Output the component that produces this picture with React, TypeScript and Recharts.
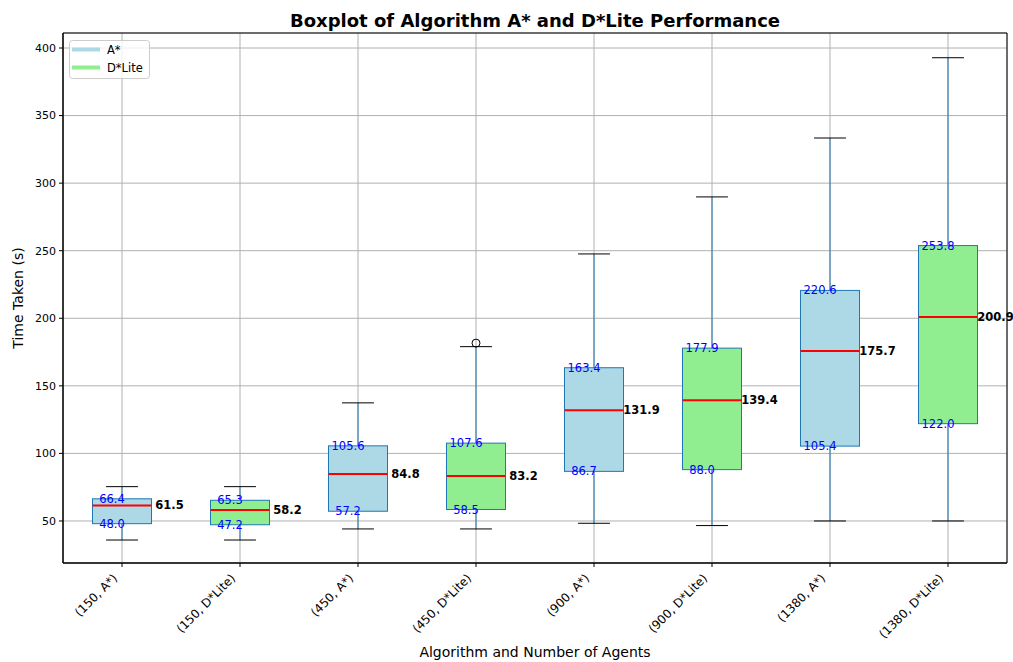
import React from 'react';
import {
  ComposedChart,
  Bar,
  XAxis,
  YAxis,
  CartesianGrid,
  ReferenceArea,
  Legend,
} from 'recharts';

const categories = [
  '(150, A*)',
  '(150, D*Lite)',
  '(450, A*)',
  '(450, D*Lite)',
  '(900, A*)',
  '(900, D*Lite)',
  '(1380, A*)',
  '(1380, D*Lite)',
];
const algorithms = ['A*', 'D*Lite', 'A*', 'D*Lite', 'A*', 'D*Lite', 'A*', 'D*Lite'];
const mins = [35.9, 35.9, 44.1, 44.1, 48.3, 46.6, 50.0, 50.0];
const q1s = [48.0, 47.2, 57.2, 58.5, 86.7, 88.0, 105.4, 122.0];
const medians = [61.5, 58.2, 84.8, 83.2, 131.9, 139.4, 175.7, 200.9];
const q3s = [66.4, 65.3, 105.6, 107.6, 163.4, 177.9, 220.6, 253.8];
const maxs = [75.4, 75.4, 137.4, 179.0, 247.6, 289.8, 333.4, 392.8];
const outliers: number[][] = [[], [], [], [181.6], [], [], [], []];
const yTicks = [50, 100, 150, 200, 250, 300, 350, 400];
const yDomain = [18.9, 411.1];

const algoColors: Record<string, string> = { 'A*': '#ADD8E6', 'D*Lite': '#90EE90' };

const data = categories.map((name, i) => ({
  name,
  algo: algorithms[i],
  min: mins[i],
  q1: q1s[i],
  median: medians[i],
  q3: q3s[i],
  max: maxs[i],
  outliers: outliers[i],
}));

const FONT = '"DejaVu Sans", sans-serif';

const BoxShape = (props: any) => {
  const { x, y, width, height, payload } = props;
  const top = Math.min(y, y + height);
  const bottom = Math.max(y, y + height);
  const { min, max, q1, q3, median, algo } = payload;
  const pix = (v: number) => top + ((max - v) / (max - min)) * (bottom - top);
  const cx = x + width / 2;
  const capHalf = width * 0.27;
  const yq1 = pix(q1);
  const yq3 = pix(q3);
  const ym = pix(median);
  return (
    <g>
      <line x1={cx} x2={cx} y1={pix(max)} y2={yq3} stroke="#1f77b4" strokeWidth={1} />
      <line x1={cx} x2={cx} y1={yq1} y2={pix(min)} stroke="#1f77b4" strokeWidth={1} />
      <line x1={cx - capHalf} x2={cx + capHalf} y1={pix(max)} y2={pix(max)} stroke="#000" strokeWidth={1} />
      <line x1={cx - capHalf} x2={cx + capHalf} y1={pix(min)} y2={pix(min)} stroke="#000" strokeWidth={1} />
      <rect x={x} y={yq3} width={width} height={yq1 - yq3} fill={algoColors[algo]} stroke="#1f77b4" strokeWidth={1} />
      <line x1={x} x2={x + width} y1={ym} y2={ym} stroke="#ff0000" strokeWidth={2} />
      {payload.outliers.map((o: number, k: number) => (
        <circle key={k} cx={cx} cy={pix(o)} r={4} fill="none" stroke="#000" strokeWidth={1} />
      ))}
      <text x={cx - 10} y={yq3} dy="0.35em" textAnchor="middle" fill="#0000ff" fontSize={11.5} fontFamily={FONT}>
        {q3.toFixed(1)}
      </text>
      <text x={cx - 10} y={yq1} dy="0.35em" textAnchor="middle" fill="#0000ff" fontSize={11.5} fontFamily={FONT}>
        {q1.toFixed(1)}
      </text>
      <text x={cx + 47.5} y={ym} dy="0.35em" textAnchor="middle" fill="#000" fontSize={11.5} fontWeight="bold" fontFamily={FONT}>
        {median.toFixed(1)}
      </text>
    </g>
  );
};

const XTick = (props: any) => {
  const { x, y, payload } = props;
  return (
    <g transform={`translate(${x},${y})`}>
      <text
        x={0}
        y={0}
        transform="translate(-4,12) rotate(-45)"
        textAnchor="end"
        fill="#000"
        fontSize={12}
        fontFamily={FONT}
      >
        {payload.value}
      </text>
    </g>
  );
};

const LegendBox = () => (
  <svg width={82} height={40} style={{ display: 'block' }}>
    <rect x={0.5} y={0.5} width={80} height={38} rx={3} ry={3} fill="rgba(255,255,255,0.8)" stroke="#cccccc" strokeWidth={1} />
    <line x1={3} x2={31} y1={9.5} y2={9.5} stroke={algoColors['A*']} strokeWidth={4} />
    <text x={38} y={9.5} dy="0.35em" fontSize={11.5} fontFamily={FONT} fill="#000">A*</text>
    <line x1={3} x2={31} y1={27.5} y2={27.5} stroke={algoColors['D*Lite']} strokeWidth={4} />
    <text x={38} y={27.5} dy="0.35em" fontSize={11.5} fontFamily={FONT} fill="#000">D*Lite</text>
  </svg>
);

export default function App() {
  return (
    <div style={{ position: 'absolute', left: 0, top: 0, width: 1013, height: 662, background: '#fff' }}>
      <ComposedChart
        width={1013}
        height={662}
        data={data}
        margin={{ top: 33, right: 6, bottom: 0, left: 0 }}
        barCategoryGap="25%"
        style={{ fontFamily: FONT }}
      >
        <CartesianGrid stroke="#b0b0b0" strokeWidth={1} />
        <XAxis
          dataKey="name"
          interval={0}
          height={99}
          tickSize={4}
          tickMargin={0}
          stroke="#000"
          tickLine={{ stroke: '#000' }}
          tick={<XTick />}
          label={{
            value: 'Algorithm and Number of Agents',
            position: 'insideBottom',
            offset: 5,
            style: { fontSize: 14, fill: '#000', fontFamily: FONT },
          }}
        />
        <YAxis
          type="number"
          domain={yDomain}
          ticks={yTicks}
          allowDataOverflow
          width={63}
          tickSize={4}
          tickMargin={3}
          stroke="#000"
          tickLine={{ stroke: '#000' }}
          tick={{ fontSize: 11, fill: '#000', fontFamily: FONT }}
          label={{
            value: 'Time Taken (s)',
            angle: -90,
            position: 'insideLeft',
            offset: 18,
            style: { fontSize: 14, fill: '#000', fontFamily: FONT, textAnchor: 'middle' },
          }}
        />
        <Bar
          dataKey={(d: any) => [d.min, d.max]}
          shape={<BoxShape />}
          isAnimationActive={false}
          legendType="none"
        />
        <ReferenceArea
          y1={yDomain[0]}
          y2={yDomain[1]}
          fill="none"
          fillOpacity={0}
          stroke="#000"
          strokeOpacity={1}
          strokeWidth={1}
          ifOverflow="visible"
          label={{
            value: 'Boxplot of Algorithm A* and D*Lite Performance',
            position: 'top',
            offset: 6,
            style: { fontSize: 18, fontWeight: 'bold', fill: '#000', fontFamily: FONT },
          }}
        />
        <Legend
          layout="horizontal"
          verticalAlign="middle"
          align="center"
          content={() => <LegendBox />}
          wrapperStyle={{ left: 69, top: 40, width: 'auto', height: 'auto' }}
        />
      </ComposedChart>
    </div>
  );
}
